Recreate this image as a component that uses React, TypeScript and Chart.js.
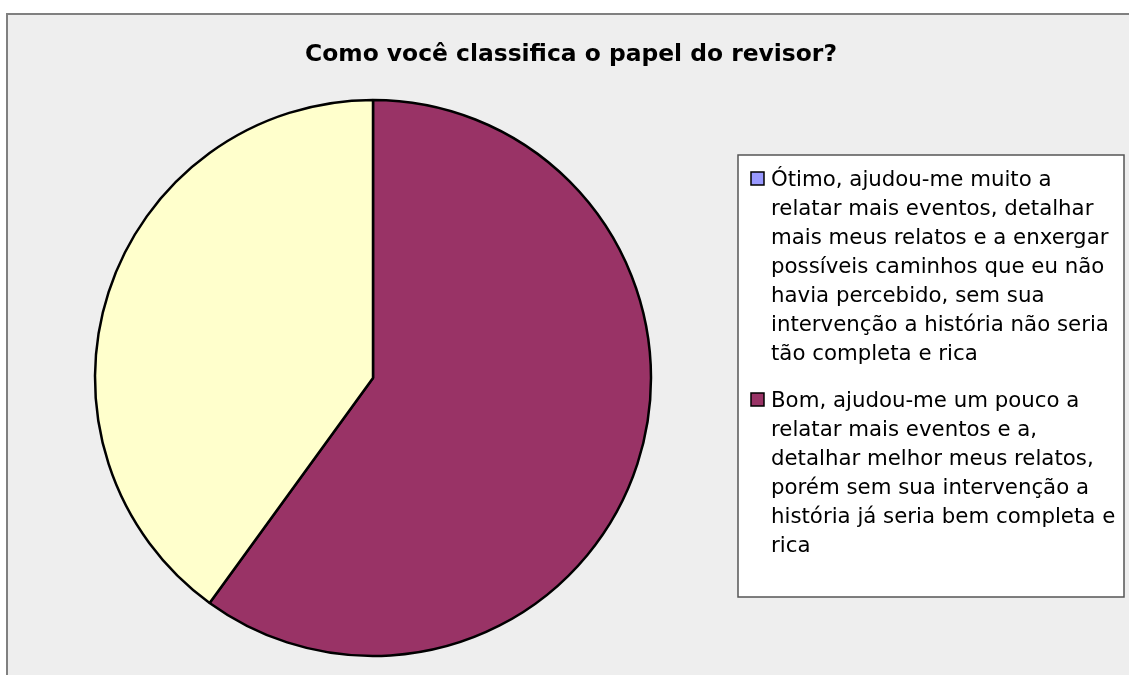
import React, { useEffect, useRef } from "react";
import { Chart, registerables } from "chart.js";

Chart.register(...registerables);

const TITLE = "Como você classifica o papel do revisor?";
const CATEGORIES = [
  "Ótimo, ajudou-me muito a relatar mais eventos, detalhar mais meus relatos e a enxergar possíveis caminhos que eu não havia percebido, sem sua intervenção a história não seria tão completa e rica",
  "Bom, ajudou-me um pouco a relatar mais eventos e a, detalhar melhor meus relatos, porém sem sua intervenção a história já seria bem completa e rica",
  "",
];
const VALUES = [0, 60, 40];
const COLORS = ["#9999FF", "#993366", "#FFFFCC"];

const W = 1129;
const H = 675;

const framePlugin = {
  id: "frame",
  beforeDraw(chart: any) {
    const ctx = chart.ctx;
    ctx.save();
    ctx.fillStyle = "#ffffff";
    ctx.fillRect(0, 0, W, H);
    ctx.fillStyle = "#EEEEEE";
    ctx.fillRect(7, 14, W, H);
    ctx.strokeStyle = "#808080";
    ctx.lineWidth = 2;
    ctx.beginPath();
    ctx.moveTo(7, H + 5);
    ctx.lineTo(7, 14);
    ctx.lineTo(W + 5, 14);
    ctx.stroke();
    ctx.restore();
  },
  afterDraw(chart: any) {
    const ctx = chart.ctx;
    ctx.save();
    // title
    ctx.fillStyle = "#000000";
    ctx.font = "bold 23.4px 'DejaVu Sans', sans-serif";
    ctx.textAlign = "center";
    ctx.textBaseline = "alphabetic";
    ctx.fillText(TITLE, 571, 61);

    // legend box
    const bx = 738, by = 155, bw = 386, bh = 442;
    ctx.fillStyle = "#ffffff";
    ctx.fillRect(bx, by, bw, bh);
    ctx.strokeStyle = "#555555";
    ctx.lineWidth = 1.5;
    ctx.strokeRect(bx, by, bw, bh);

    ctx.font = "21.3px 'DejaVu Sans', sans-serif";
    ctx.textAlign = "left";
    const labels: string[] = chart.data.labels;
    const colors: string[] = chart.data.datasets[0].backgroundColor;
    const maxW = 355;
    const lineH = 29;
    let y = 186;
    labels.forEach((lab, i) => {
      if (!lab) return;
      const words = lab.split(" ");
      const lines: string[] = [];
      let cur = "";
      words.forEach((w) => {
        const t = cur ? cur + " " + w : w;
        if (ctx.measureText(t).width > maxW && cur) {
          lines.push(cur);
          cur = w;
        } else cur = t;
      });
      if (cur) lines.push(cur);
      // marker
      ctx.fillStyle = colors[i];
      ctx.fillRect(751, y - 14, 13, 13);
      ctx.strokeStyle = "#000000";
      ctx.lineWidth = 1.5;
      ctx.strokeRect(751, y - 14, 13, 13);
      ctx.fillStyle = "#000000";
      lines.forEach((ln, k) => {
        ctx.fillText(ln, 771, y + k * lineH);
      });
      y += lines.length * lineH + 18;
    });
    ctx.restore();
  },
};

export default function App() {
  const ref = useRef<HTMLCanvasElement>(null);
  useEffect(() => {
    if (!ref.current) return;
    const chart = new Chart(ref.current, {
      type: "pie",
      data: {
        labels: CATEGORIES,
        datasets: [
          {
            data: VALUES,
            backgroundColor: COLORS,
            borderColor: "#000000",
            borderWidth: 2.5,
            radius: 278,
          } as any,
        ],
      },
      options: {
        animation: false,
        responsive: false,
        maintainAspectRatio: false,
        layout: { padding: { left: 90, right: 473, top: 95, bottom: 14 } },
        plugins: {
          legend: { display: false },
          tooltip: { enabled: false },
          title: { display: false },
        },
      },
      plugins: [framePlugin],
    });
    return () => chart.destroy();
  }, []);
  return (
    <div style={{ position: "fixed", left: 0, top: 0, width: W, height: H, background: "#fff" }}>
      <canvas ref={ref} width={W} height={H} style={{ display: "block", width: W, height: H }} />
    </div>
  );
}
